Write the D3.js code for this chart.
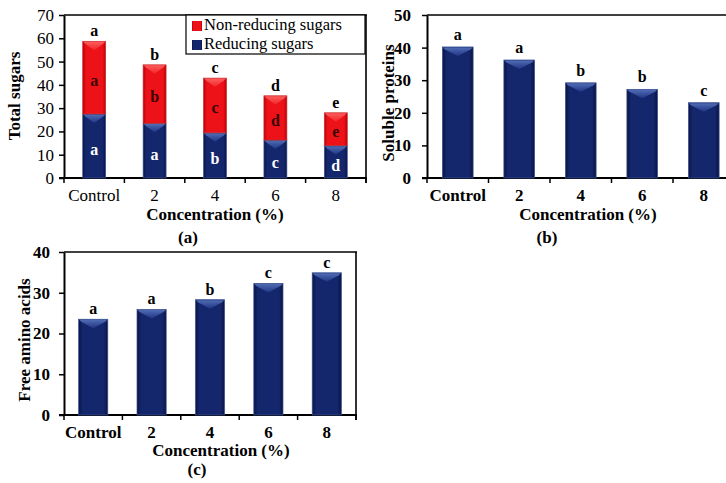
<!DOCTYPE html>
<html>
<head>
<meta charset="utf-8">
<script src="https://cdn.jsdelivr.net/npm/d3@7"></script>
<style>
  html, body { margin: 0; padding: 0; background: #fff; }
  svg { display: block; }
  text { font-family: "Liberation Serif", "Times New Roman", Times, serif; }
</style>
</head>
<body>
<script>
// Concentration levels shared by all three panels
const categories = ["Control", "2", "4", "6", "8"];

// (a) sugars, stacked: reducing at the bottom, non-reducing on top
const reducingSugars = [27.5, 23.5, 19.4, 16.3, 13.9];
const nonReducingSugars = [31.2, 25.1, 23.5, 19.0, 14.1];
const totalSugarLetters = ["a", "b", "c", "d", "e"];
const nonReducingLetters = ["a", "b", "c", "d", "e"];
const reducingLetters = ["a", "a", "b", "c", "d"];
const sugarTicks = [0, 10, 20, 30, 40, 50, 60, 70];

// (b) soluble proteins
const solubleProteins = [40.2, 36.2, 29.2, 27.2, 23.1];
const proteinLetters = ["a", "a", "b", "b", "c"];
const proteinTicks = [0, 10, 20, 30, 40, 50];

// (c) free amino acids
const freeAminoAcids = [23.5, 25.9, 28.3, 32.3, 34.9];
const aminoLetters = ["a", "a", "b", "c", "c"];
const aminoTicks = [0, 10, 20, 30, 40];

const FONT = '"Liberation Serif", "Times New Roman", Times, serif';

const svg = d3.select("body").append("svg")
  .attr("width", 726).attr("height", 483);

// Bevelled bar fills
const defs = svg.append("defs");
function hGradient(id, edge, mid) {
  const g = defs.append("linearGradient").attr("id", id)
    .attr("x1", "0%").attr("x2", "100%").attr("y1", "0%").attr("y2", "0%");
  [[0, edge], [0.14, mid], [0.5, mid], [0.86, mid], [1, edge]].forEach(([o, c]) =>
    g.append("stop").attr("offset", o).attr("stop-color", c));
}
function vGradient(id, top, bottom) {
  const g = defs.append("linearGradient").attr("id", id)
    .attr("x1", "0%").attr("x2", "0%").attr("y1", "0%").attr("y2", "100%");
  g.append("stop").attr("offset", 0).attr("stop-color", top);
  g.append("stop").attr("offset", 1).attr("stop-color", bottom);
}
hGradient("navyFill", "#0a1443", "#15276c");
hGradient("redFill", "#b80008", "#ec1218");
vGradient("navyBevel", "#5b78c0", "#22388a");
vGradient("redBevel", "#ff6a6a", "#f02828");

function drawBar(g, x0, w, yTop, yBottom, kind) {
  const h = Math.max(0, yBottom - yTop);
  g.append("rect")
    .attr("x", x0).attr("y", yTop).attr("width", w).attr("height", h)
    .attr("fill", kind === "navy" ? "url(#navyFill)" : "url(#redFill)")
    .attr("stroke", kind === "navy" ? "#3d5498" : "#c83030")
    .attr("stroke-width", 0.7);
  const cx = x0 + w / 2;
  const depth = Math.min(9, h * 0.5);
  g.append("polygon")
    .attr("points", [
      [x0 + 0.5, yTop + 0.5], [x0 + w - 0.5, yTop + 0.5],
      [x0 + w - 2.5, yTop + 2.5], [cx, yTop + depth], [x0 + 2.5, yTop + 2.5]
    ].map(p => p.join(",")).join(" "))
    .attr("fill", kind === "navy" ? "url(#navyBevel)" : "url(#redBevel)")
    .attr("opacity", 0.85);
}

function drawPanel(cfg) {
  const g = svg.append("g");
  const x = d3.scaleBand().domain(categories).range(cfg.xRange);
  const y = d3.scaleLinear().domain([0, cfg.yMax]).range(cfg.yRange);
  const [xl, xr] = cfg.xRange;
  const [yb, yt] = cfg.yRange;

  // plot frame (top and right)
  g.append("line").attr("x1", xl).attr("x2", xr + 1).attr("y1", yt).attr("y2", yt)
    .attr("stroke", "#000").attr("stroke-width", 1.6);
  g.append("line").attr("x1", xr).attr("x2", xr).attr("y1", yt).attr("y2", yb + 5)
    .attr("stroke", "#000").attr("stroke-width", 1.6);

  // value axis
  const yAxis = d3.axisLeft(y).tickValues(cfg.ticks).tickSize(5).tickSizeOuter(0)
    .tickPadding(cfg.yTickPad).tickFormat(d3.format("d"));
  const ya = g.append("g").attr("transform", `translate(${xl},0)`).call(yAxis);
  ya.attr("font-family", FONT);
  ya.select(".domain").attr("stroke", "#000").attr("stroke-width", 2);
  ya.selectAll(".tick line").attr("stroke", "#000").attr("stroke-width", 1.5);
  ya.selectAll("text").attr("font-size", 17).attr("fill", "#000")
    .attr("font-weight", cfg.boldTicks ? "bold" : "normal");

  // category axis: labels from the band scale, ticks on band boundaries
  const xAxis = d3.axisBottom(x).tickSize(0).tickPadding(cfg.xTickPad);
  const xa = g.append("g").attr("transform", `translate(0,${yb})`).call(xAxis);
  xa.attr("font-family", FONT);
  xa.select(".domain").remove();
  xa.selectAll("text").attr("font-size", 17).attr("fill", "#000")
    .attr("font-weight", cfg.boldTicks ? "bold" : "normal");
  g.append("line").attr("x1", xl - 5).attr("x2", xr + 1).attr("y1", yb).attr("y2", yb)
    .attr("stroke", "#000").attr("stroke-width", 2);
  const bounds = categories.map(c => x(c)).concat([xr]);
  g.selectAll(".xtick").data(bounds).join("line").attr("class", "xtick")
    .attr("x1", d => d).attr("x2", d => d).attr("y1", yb).attr("y2", yb + 5)
    .attr("stroke", "#000").attr("stroke-width", 1.5);

  // bars
  const bw = x.bandwidth() * cfg.barRatio;
  const bx = c => x(c) + (x.bandwidth() - bw) / 2;
  cfg.draw(g, x, y, bw, bx);

  // titles
  g.append("text")
    .attr("transform", `translate(${cfg.yTitleX},${cfg.yTitleY}) rotate(-90)`)
    .attr("text-anchor", "middle").attr("font-weight", "bold").attr("font-size", 17)
    .text(cfg.yTitle);
  g.append("text").attr("x", cfg.xTitleX).attr("y", cfg.xTitleY)
    .attr("text-anchor", "middle").attr("font-weight", "bold").attr("font-size", 17)
    .text("Concentration (%)");
  g.append("text").attr("x", cfg.tagX).attr("y", cfg.tagY)
    .attr("text-anchor", "middle").attr("font-weight", "bold").attr("font-size", 17)
    .text(cfg.tag);
  return g;
}

function letter(g, x, y, t, fill) {
  g.append("text").attr("x", x).attr("y", y).attr("text-anchor", "middle")
    .attr("font-weight", "bold").attr("font-size", 16).attr("fill", fill).text(t);
}

// (a) Total sugars
const panelA = drawPanel({
  xRange: [64, 366], yRange: [178, 15], yMax: 70, ticks: sugarTicks,
  barRatio: 0.38, boldTicks: false, yTickPad: 5, xTickPad: 11,
  yTitle: "Total sugars", yTitleX: 20, yTitleY: 96,
  xTitleX: 215, xTitleY: 220, tag: "(a)", tagX: 188, tagY: 243,
  draw(g, x, y, bw, bx) {
    categories.forEach((c, i) => {
      const r = reducingSugars[i], n = nonReducingSugars[i], total = r + n;
      drawBar(g, bx(c), bw, y(r), y(0), "navy");
      drawBar(g, bx(c), bw, y(total), y(r), "red");
      const cx = bx(c) + bw / 2;
      letter(g, cx, y(total) - 5, totalSugarLetters[i], "#000");
      letter(g, cx, (y(total) + y(r)) / 2 + 8, nonReducingLetters[i], "#3a0404");
      letter(g, cx, (y(r) + y(0)) / 2 + 9, reducingLetters[i], "#fff");
    });
  }
});

// legend for (a)
const legend = panelA.append("g");
legend.append("rect").attr("x", 186).attr("y", 15).attr("width", 179).attr("height", 39)
  .attr("fill", "#fff").attr("stroke", "#000").attr("stroke-width", 1.2);
[["Non-reducing sugars", "url(#redFill)", 21, 30], ["Reducing sugars", "url(#navyFill)", 40, 49]]
  .forEach(([label, fill, ry, ty]) => {
    legend.append("rect").attr("x", 192).attr("y", ry).attr("width", 10).attr("height", 10)
      .attr("fill", fill);
    legend.append("text").attr("x", 204).attr("y", ty).attr("font-size", 16.5).text(label);
  });

// (b) Soluble proteins
drawPanel({
  xRange: [427, 734.5], yRange: [178, 15], yMax: 50, ticks: proteinTicks,
  barRatio: 0.5, boldTicks: true, yTickPad: 11, xTickPad: 11,
  yTitle: "Soluble proteins", yTitleX: 394, yTitleY: 103,
  xTitleX: 588, xTitleY: 220, tag: "(b)", tagX: 547, tagY: 243,
  draw(g, x, y, bw, bx) {
    categories.forEach((c, i) => {
      drawBar(g, bx(c), bw, y(solubleProteins[i]), y(0), "navy");
      letter(g, bx(c) + bw / 2, y(solubleProteins[i]) - 7, proteinLetters[i], "#000");
    });
  }
});

// (c) Free amino acids
drawPanel({
  xRange: [64, 356], yRange: [415, 252], yMax: 40, ticks: aminoTicks,
  barRatio: 0.5, boldTicks: true, yTickPad: 9, xTickPad: 11,
  yTitle: "Free amino acids", yTitleX: 30, yTitleY: 340,
  xTitleX: 221, xTitleY: 456, tag: "(c)", tagX: 197, tagY: 475,
  draw(g, x, y, bw, bx) {
    categories.forEach((c, i) => {
      drawBar(g, bx(c), bw, y(freeAminoAcids[i]), y(0), "navy");
      letter(g, bx(c) + bw / 2, y(freeAminoAcids[i]) - 5, aminoLetters[i], "#000");
    });
  }
});
</script>
</body>
</html>
